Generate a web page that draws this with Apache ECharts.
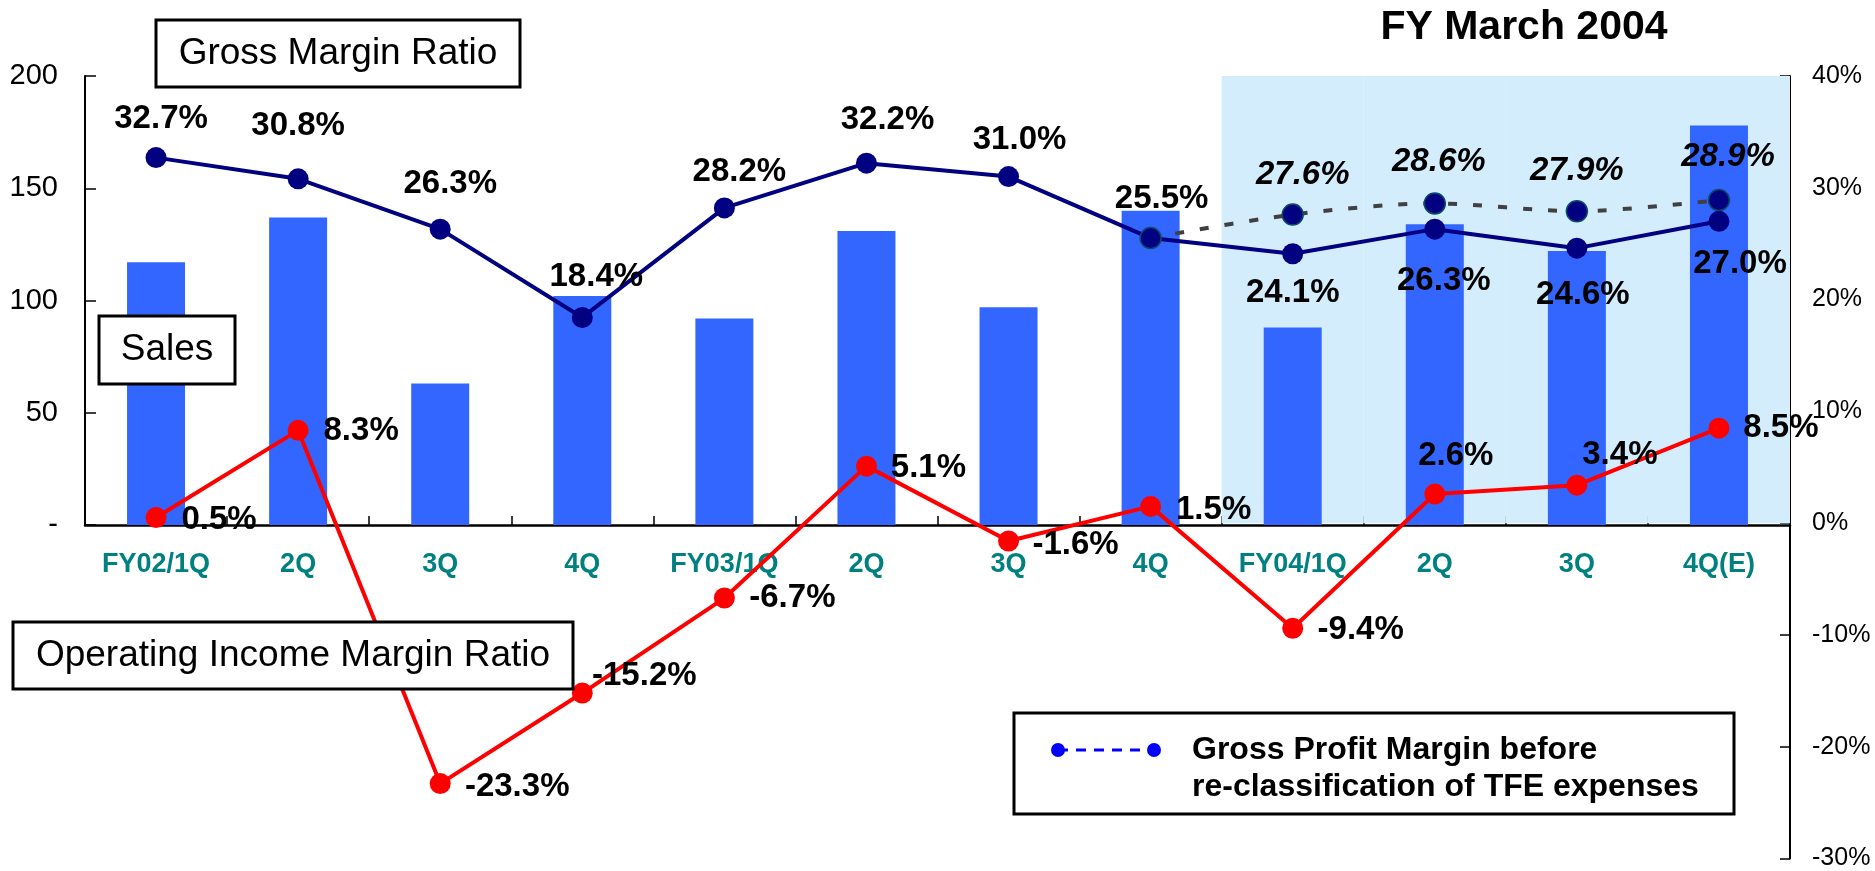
<!DOCTYPE html>
<html>
<head>
<meta charset="utf-8">
<script src="https://cdn.jsdelivr.net/npm/echarts@6/dist/echarts.min.js"></script>
<style>
html,body{margin:0;padding:0;background:#fff;}
#chart{width:1875px;height:871px;}
</style>
</head>
<body>
<div id="chart"></div>
<script>
// ---- data ----
const categories = ['FY02/1Q','2Q','3Q','4Q','FY03/1Q','2Q','3Q','4Q','FY04/1Q','2Q','3Q','4Q(E)'];
const sales = [117, 137, 63, 102, 92, 131, 97, 140, 88, 134, 122, 178];
const grossMargin = [32.7, 30.8, 26.3, 18.4, 28.2, 32.2, 31.0, 25.5, 24.1, 26.3, 24.6, 27.0];
const grossBefore = [null, null, null, null, null, null, null, 25.5, 27.6, 28.6, 27.9, 28.9];
const opMargin = [0.5, 8.3, -23.3, -15.2, -6.7, 5.1, -1.6, 1.5, -9.4, 2.6, 3.4, 8.5];
const highlightRange = [null, null, null, null, null, null, null, null, 40, 40, 40, 40];
const leftTicks = [0, 200, 50];
const rightTicks = [-30, 40, 10];

// ---- label placement (offsets of label centre from point) ----
const gmOff = [[5,-39],[0,-53],[10,-45],[14,-41],[15,-36],[21,-43],[11,-37],[11,-39],[0,39],[9,52],[6,47],[21,43]];
const gbOff = [[0,0],[0,0],[0,0],[0,0],[0,0],[0,0],[0,0],[0,0],[10,-40],[4,-42],[0,-40],[9,-43]];
const opOff = [[63,2],[63,1],[77,3],[62,-17],[68,0],[62,2],[67,4],[63,4],[68,2],[21,-38],[43,-30],[62,0]];

const FONT = "'Liberation Sans', Arial, sans-serif";
const GL = 85, GR = 85, GT = 76;

const chart = echarts.init(document.getElementById('chart'));

function labelled(values, offs, extra, skip) {
  return values.map((v, i) => ({
    value: v,
    label: Object.assign({ show: v !== null && !(skip && skip(i)), offset: offs[i] }, extra || {})
  }));
}

const boxStyle = { fill: '#fff', stroke: '#000', lineWidth: 3 };
function box(x, y, w, h, text, size, bold) {
  return {
    type: 'group', z: 100,
    children: [
      { type: 'rect', shape: { x: x, y: y, width: w, height: h }, style: boxStyle, z: 100 },
      { type: 'text', x: x + w / 2, y: y + h / 2, z: 101,
        style: { text: text, font: (bold ? 'bold ' : '') + size + 'px ' + FONT, fill: '#000', align: 'center', verticalAlign: 'middle' } }
    ]
  };
}

const labelBase = { position: 'inside', color: '#000', fontWeight: 'bold', fontSize: 33, fontFamily: FONT,
  formatter: p => p.value.toFixed(1) + '%' };

const option = {
  animation: false,
  backgroundColor: '#fff',
  textStyle: { fontFamily: FONT },
  grid: [
    { left: GL, right: GR, top: GT, height: 449 },
    { left: GL, right: GR, top: GT, bottom: 9 }
  ],
  xAxis: [
    {
      type: 'category', gridIndex: 0, data: categories, boundaryGap: true,
      axisLine: { lineStyle: { color: '#000', width: 2.5 } },
      axisTick: { show: true, inside: true, length: 9, lineStyle: { color: '#000', width: 1.5 } },
      axisLabel: { color: '#008080', fontWeight: 'bold', fontSize: 27, margin: 26, fontFamily: FONT, interval: 0 },
      splitLine: { show: false }
    },
    {
      type: 'category', gridIndex: 1, data: categories, boundaryGap: true, show: false
    }
  ],
  yAxis: [
    {
      type: 'value', gridIndex: 0, position: 'left',
      min: leftTicks[0], max: leftTicks[1], interval: leftTicks[2],
      axisLine: { show: true, lineStyle: { color: '#000', width: 2 } },
      axisTick: { show: true, inside: true, length: 11, lineStyle: { color: '#000', width: 1.5 } },
      axisLabel: { color: '#000', fontSize: 29, margin: 27, fontFamily: FONT,
        formatter: v => (v === 0 ? '-' : String(v)) },
      splitLine: { show: false }
    },
    {
      type: 'value', gridIndex: 1, position: 'right',
      min: rightTicks[0], max: rightTicks[1], interval: rightTicks[2],
      axisLine: { show: true, lineStyle: { color: '#000', width: 2 } },
      axisTick: { show: true, inside: true, length: 10, lineStyle: { color: '#000', width: 1.5 } },
      axisLabel: { color: '#000', fontSize: 25, margin: 22, fontFamily: FONT, formatter: '{value}%' },
      splitLine: { show: false }
    }
  ],
  series: [
    {
      name: 'FY March 2004', type: 'bar', xAxisIndex: 1, yAxisIndex: 1,
      data: highlightRange, barWidth: '100%', silent: true, z: 1,
      itemStyle: { color: '#D3EDFD' }
    },
    {
      name: 'Sales', type: 'bar', xAxisIndex: 0, yAxisIndex: 0,
      data: sales, barWidth: 58, z: 2,
      itemStyle: { color: '#3366FF' }
    },
    {
      name: 'Operating Income Margin Ratio', type: 'line', xAxisIndex: 1, yAxisIndex: 1,
      data: labelled(opMargin, opOff),
      symbol: 'circle', symbolSize: 21, z: 3,
      lineStyle: { color: '#FF0000', width: 4 },
      itemStyle: { color: '#FF0000' },
      label: labelBase
    },
    {
      name: 'Gross Margin Ratio', type: 'line', xAxisIndex: 1, yAxisIndex: 1,
      data: labelled(grossMargin, gmOff),
      symbol: 'circle', symbolSize: 21, z: 4,
      lineStyle: { color: '#000080', width: 4 },
      itemStyle: { color: '#000080' },
      label: labelBase
    },
    {
      name: 'Gross Profit Margin before re-classification of TFE expenses', type: 'line',
      xAxisIndex: 1, yAxisIndex: 1,
      data: labelled(grossBefore, gbOff, null, i => i < 8),
      smooth: 0.3, symbol: 'circle', symbolSize: 21, z: 5,
      lineStyle: { color: '#404040', width: 4, type: [9, 16] },
      itemStyle: { color: '#000080', borderColor: '#0A4A6A', borderWidth: 1.5 },
      label: Object.assign({}, labelBase, { fontStyle: 'italic' })
    }
  ],
  graphic: [
    { type: 'text', x: 1524, y: 28, z: 100,
      style: { text: 'FY March 2004', font: 'bold 41px ' + FONT, fill: '#000', align: 'center', verticalAlign: 'middle' } },
    box(156, 20, 364, 67, 'Gross Margin Ratio', 37, false),
    box(99, 316, 136, 68, 'Sales', 37, false),
    box(13, 622, 560, 67, 'Operating Income Margin Ratio', 37, false),
    {
      type: 'group', z: 100,
      children: [
        { type: 'rect', shape: { x: 1014, y: 713, width: 720, height: 101 }, style: boxStyle, z: 100 },
        { type: 'line', shape: { x1: 1058, y1: 750, x2: 1154, y2: 750 }, z: 101,
          style: { stroke: '#0000FF', lineWidth: 3, lineDash: [10, 8] } },
        { type: 'circle', shape: { cx: 1058, cy: 750, r: 7 }, style: { fill: '#0000FF' }, z: 102 },
        { type: 'circle', shape: { cx: 1154, cy: 750, r: 7 }, style: { fill: '#0000FF' }, z: 102 },
        { type: 'text', x: 1192, y: 750, z: 101,
          style: { text: 'Gross Profit Margin before', font: 'bold 32px ' + FONT, fill: '#000', align: 'left', verticalAlign: 'middle' } },
        { type: 'text', x: 1192, y: 787, z: 101,
          style: { text: 're-classification of TFE expenses', font: 'bold 32px ' + FONT, fill: '#000', align: 'left', verticalAlign: 'middle' } }
      ]
    }
  ]
};

chart.setOption(option);
</script>
</body>
</html>
